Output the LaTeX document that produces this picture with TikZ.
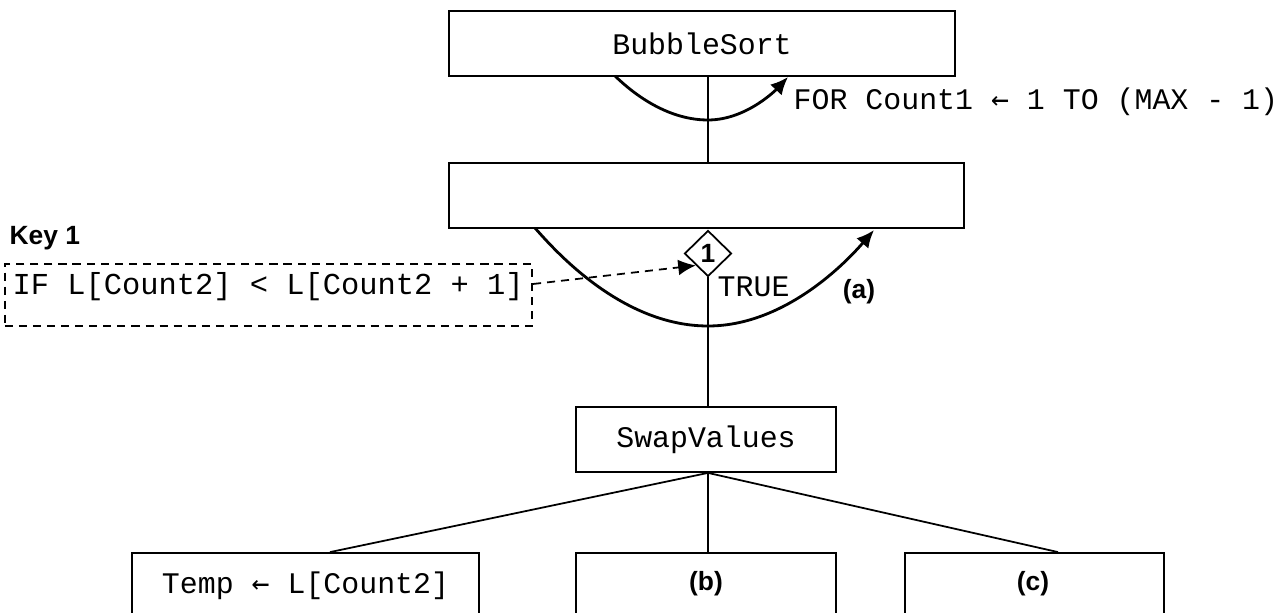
\documentclass[tikz,border=0pt]{standalone}
\usepackage{fontspec}
\setmainfont{Liberation Sans}
\newfontfamily\codefont{Liberation Mono}
\newfontfamily\arrowfont{DejaVu Sans Mono}
\newcommand{\assignarrow}{{\arrowfont ←}}
\usetikzlibrary{shapes.geometric,arrows.meta,positioning}

\tikzset{
  code/.style={font=\codefont\fontsize{8.5}{10}\selectfont},
  tag/.style={font=\bfseries\fontsize{7.5}{9}\selectfont,inner sep=0pt},
  box/.style={draw,line width=0.5pt,inner sep=0pt,minimum height=0.65cm,code},
  leaf/.style={draw,line width=0.5pt,inner sep=0pt,minimum height=0.8cm},
  keybox/.style={draw,line width=0.5pt,dash pattern=on 2.3pt off 1.7pt,inner sep=0pt},
  cond/.style={draw,diamond,line width=0.5pt,fill=white,inner sep=0pt,minimum width=0.47cm,minimum height=0.46cm},
  link/.style={line width=0.5pt},
  looparrow/.style={line width=0.8pt,-{Latex[length=5pt,width=4.5pt]}},
  keyarrow/.style={line width=0.5pt,dash pattern=on 2.3pt off 1.7pt,-{Latex[length=5pt,width=4.5pt]}}
}

\begin{document}
\begin{tikzpicture}[x=0.01cm,y=-0.01cm]
  \useasboundingbox (0,0) rectangle (1283,613);
  \clip (0,0) rectangle (1283,613);

  % structure boxes
  \node[box,minimum width=5.06cm] (bubble) at (702,43.5) {BubbleSort};
  \node[box,minimum width=5.15cm] (loop) at (706.5,195.5) {};
  \node[box,minimum width=2.6cm] (swap) at (706,439.5) {SwapValues};
  \node[leaf,minimum width=3.47cm] (temp) at (305.5,593) {};
  \node[leaf,minimum width=2.6cm] (partb) at (706,593) {};
  \node[leaf,minimum width=2.59cm] (partc) at (1034.5,593) {};

  \node[code,below=0.07cm of temp.north] (temptext) {Temp \assignarrow{} L[Count2]};
  \node[tag,below=0.19cm of partb.north] (btext) {(b)};
  \node[tag,below=0.19cm of partc.north,xshift=-0.015cm] (ctext) {(c)};

  % key
  \node[tag,anchor=west] (keylabel) at (9,238) {Key 1};
  \node[keybox,minimum width=5.27cm,minimum height=0.62cm] (keytext) at (268.5,295) {};
  \node[code,anchor=west,inner sep=0pt] (keycode) at (12,287) {\fontsize{8.65}{10}\selectfont IF L[Count2] < L[Count2 + 1]};
  \node[cond] (sel) at (708,253.5) {};
  \node[tag] (seltext) at (sel.center) {1};

  % connectors
  \coordinate (stem) at (708,0);
  \draw[link] (stem |- bubble.south) -- (stem |- loop.north);
  \draw[link] (sel.south) -- (sel.south |- swap.north);
  \draw[link] (swap.south -| stem) -- ([xshift=0.245cm]temp.north);
  \draw[link] (swap.south -| stem) -- (stem |- partb.north);
  \draw[link] (swap.south -| stem) -- ([xshift=0.235cm]partc.north);
  \draw[keyarrow] ([yshift=0.11cm]keytext.east) -- (sel.south west);

  % loops
  \coordinate (outerstart) at (615,76);
  \coordinate (outerbend) at (708,120);
  \coordinate (outerend) at (788,77);
  \draw[looparrow] (outerstart) parabola bend (outerbend) (outerend);
  \node[code,anchor=west,inner sep=0pt] (outerlabel) at (793,102) {FOR Count1 \assignarrow{} 1 TO (MAX - 1)};

  \coordinate (innerstart) at (535,228);
  \coordinate (innerbend) at (708,326);
  \coordinate (innerend) at (874,230);
  \draw[looparrow] (innerstart) parabola bend (innerbend) (innerend);
  \node[code,anchor=west,inner sep=0pt] (truelabel) at (717,287) {TRUE};
  \node[tag] (alabel) at (859,292) {(a)};
\end{tikzpicture}
\end{document}
